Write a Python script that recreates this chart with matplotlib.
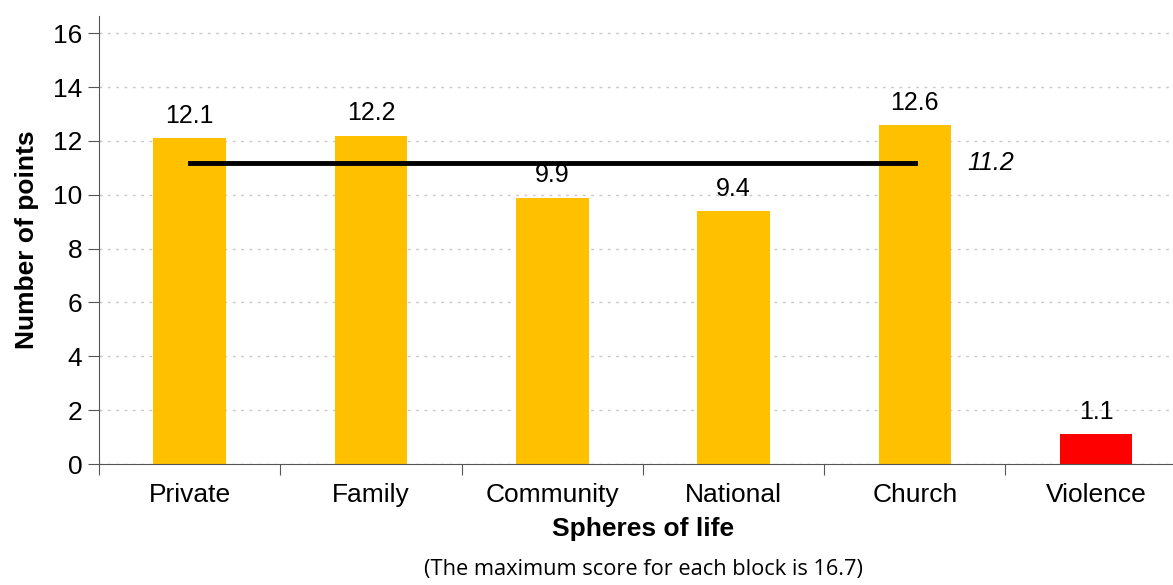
import matplotlib
matplotlib.use("Agg")
import matplotlib.pyplot as plt

spheres = ["Private", "Family", "Community", "National", "Church", "Violence"]
points = [12.1, 12.2, 9.9, 9.4, 12.6, 1.1]
bar_colors = ["#FFC000", "#FFC000", "#FFC000", "#FFC000", "#FFC000", "#FF0000"]
average = 11.2

plt.rcParams["font.family"] = ["Liberation Sans", "DejaVu Sans"]

fig = plt.figure(figsize=(11.73, 5.85), dpi=100)
ax = fig.add_axes([0.0844, 0.2068, 0.9156, 0.7662])

x = list(range(len(spheres)))
ax.bar(x, points, width=0.4, color=bar_colors, zorder=2)
for xi, v in zip(x, points):
    ax.annotate(f"{v:.1f}", (xi, v), xytext=(0, 11), textcoords="offset points",
                ha="center", va="baseline", fontsize=18)

# average line over the first five spheres
ax.plot([x[0], x[4]], [average, average], color="black", lw=3.5, zorder=3)
ax.text(x[4] + 0.42, average, f"{average:.1f}", fontsize=18, style="italic",
        va="center", ha="center")

ax.set_yticks(range(0, 17, 2))
ax.set_xticks([i + 0.5 for i in range(-1, 5)])
ax.set_xticklabels([])
ax.set_xticks(x, minor=True)
ax.set_xticklabels(spheres, minor=True, fontsize=19)
ax.set_xlim(-0.5, 5.424)
ax.set_ylim(0, 16.65)
ax.tick_params(axis="x", which="minor", length=0, pad=14)
ax.tick_params(axis="x", which="major", length=8, color="#555555")
ax.tick_params(axis="y", length=8, color="#555555", labelsize=19, pad=4)

ax.grid(axis="y", color="#c8c8c8", linestyle=(0, (2, 4)), lw=1, zorder=0)
ax.set_axisbelow(True)
for s in ["top", "right"]:
    ax.spines[s].set_visible(False)
for s in ["left", "bottom"]:
    ax.spines[s].set_color("#555555")

ax.set_ylabel("Number of points", fontsize=19, fontweight="bold", labelpad=10)
ax.set_xlabel("Spheres of life", fontsize=19, fontweight="bold")
ax.xaxis.set_label_coords(0.5065, -0.118)

fig.text(0.549, 0.027, "(The maximum score for each block is 16.7)",
         fontsize=15.7, family="Open Sans", ha="center", va="center")

fig.savefig("out.png", dpi=100)
